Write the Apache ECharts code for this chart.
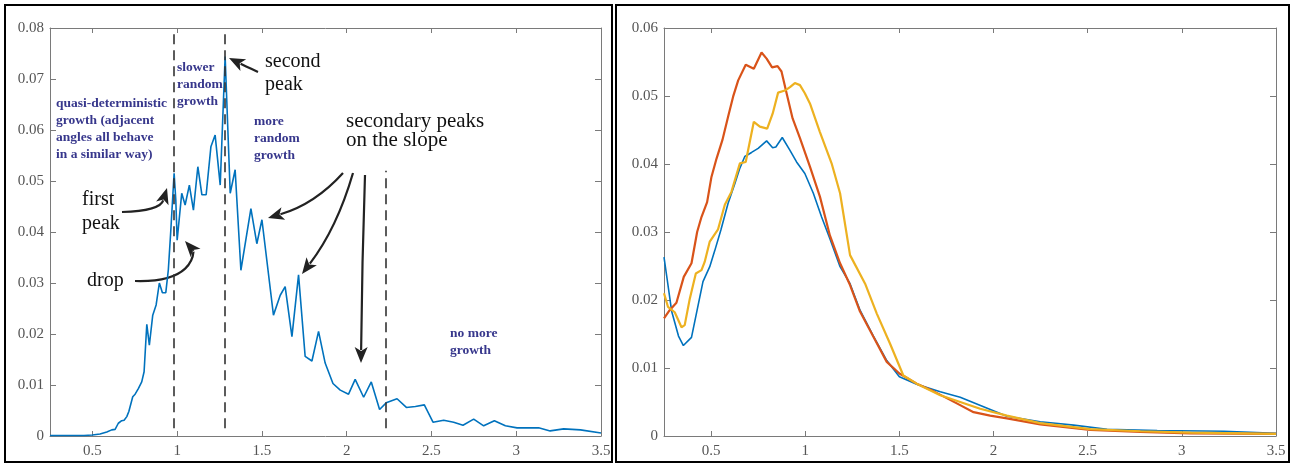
<!DOCTYPE html>
<html>
<head>
<meta charset="utf-8">
<script src="https://cdn.jsdelivr.net/npm/echarts@6/dist/echarts.min.js"></script>
<style>
  html, body { margin: 0; padding: 0; background: #fff; }
  #main { width: 1296px; height: 464px; }
</style>
</head>
<body>
<div id="main"></div>
<script>
// tick values
var xTicks = [0.5, 1, 1.5, 2, 2.5, 3, 3.5];
var leftYTicks = [0, 0.01, 0.02, 0.03, 0.04, 0.05, 0.06, 0.07, 0.08];
var rightYTicks = [0, 0.01, 0.02, 0.03, 0.04, 0.05, 0.06];

// left panel: single distribution
var leftX = [0.25, 0.35, 0.45, 0.5, 0.545, 0.585, 0.614, 0.634, 0.653, 0.673, 0.687, 0.703, 0.715, 0.725,
  0.738, 0.752, 0.771, 0.791, 0.805, 0.821, 0.836, 0.856, 0.876, 0.895, 0.913, 0.933, 0.948, 0.962,
  0.982, 0.992, 1.0, 1.027, 1.047, 1.072, 1.096, 1.122, 1.146, 1.171, 1.199, 1.224, 1.254, 1.283,
  1.313, 1.342, 1.376, 1.435, 1.47, 1.5, 1.568, 1.608, 1.637, 1.677, 1.716, 1.755, 1.795, 1.834,
  1.873, 1.919, 1.962, 2.011, 2.05, 2.1, 2.145, 2.194, 2.233, 2.297, 2.352, 2.405, 2.458, 2.509,
  2.572, 2.631, 2.686, 2.749, 2.808, 2.871, 2.936, 3.005, 3.132, 3.2, 3.28, 3.379, 3.5];
var leftY = [0.0001, 0.0001, 0.0001, 0.0002, 0.0004, 0.0008, 0.0012, 0.0013, 0.0025, 0.003, 0.0031, 0.0038, 0.0048, 0.0045,
  0.0077, 0.0082, 0.0093, 0.0106, 0.0126, 0.0219, 0.0178, 0.0237, 0.0257, 0.030, 0.0281, 0.0281, 0.0326, 0.040,
  0.0515, 0.0463, 0.0384, 0.0476, 0.0453, 0.0492, 0.0443, 0.0528, 0.0473, 0.0473, 0.0567, 0.059, 0.0492, 0.0744,
  0.0476, 0.0522, 0.0325, 0.0446, 0.0377, 0.0424, 0.0237, 0.0276, 0.0293, 0.0195, 0.0316, 0.0156, 0.0147, 0.0205,
  0.0143, 0.0103, 0.009, 0.0082, 0.0111, 0.0076, 0.0106, 0.0052, 0.0065, 0.0073, 0.0056, 0.0058, 0.0061, 0.0027,
  0.0031, 0.0027, 0.0021, 0.0033, 0.002, 0.003, 0.002, 0.0016, 0.0016, 0.001, 0.0014, 0.0012, 0.0006];

// dashed separators (left panel)
var dashX = [0.978, 1.279, 2.233];
var dashTop = [0.079, 0.079, 0.052];
var dashBottom = 0.0015;

// right panel: three smoothed distributions
var blueX = [0.25, 0.266, 0.291, 0.327, 0.353, 0.396, 0.422, 0.457, 0.493, 0.52, 0.552, 0.59, 0.626, 0.653,
  0.679, 0.715, 0.75, 0.795, 0.827, 0.844, 0.878, 0.919, 0.954, 0.998, 1.043, 1.087, 1.131, 1.185, 1.238,
  1.291, 1.362, 1.433, 1.5, 1.592, 1.717, 1.823, 1.947, 2.071, 2.248, 2.425, 2.603, 2.869, 3.223, 3.5];
var blueY = [0.0263, 0.0232, 0.0183, 0.0147, 0.0133, 0.0145, 0.018, 0.0227, 0.0249, 0.0273, 0.0303, 0.0342, 0.0371, 0.0394,
  0.0411, 0.0417, 0.0423, 0.0434, 0.0424, 0.0425, 0.0439, 0.042, 0.0403, 0.0386, 0.0357, 0.0322, 0.029, 0.0249, 0.0224,
  0.0185, 0.0147, 0.0111, 0.0087, 0.0076, 0.0065, 0.0057, 0.0043, 0.0029, 0.0021, 0.0016, 0.001, 0.0008, 0.0007, 0.0004];

var redX = [0.25, 0.28, 0.316, 0.355, 0.396, 0.426, 0.449, 0.479, 0.502, 0.529, 0.56, 0.59, 0.617, 0.644,
  0.684, 0.727, 0.768, 0.795, 0.824, 0.853, 0.874, 0.901, 0.933, 0.972, 1.025, 1.078, 1.131, 1.185, 1.238,
  1.291, 1.362, 1.433, 1.5, 1.592, 1.68, 1.805, 1.894, 1.982, 2.071, 2.248, 2.514, 2.78, 3.046, 3.5];
var redY = [0.0173, 0.0185, 0.0196, 0.0234, 0.0254, 0.03, 0.0322, 0.0344, 0.0381, 0.0408, 0.0435, 0.0469, 0.0499, 0.0523,
  0.0546, 0.054, 0.0564, 0.0555, 0.0542, 0.0544, 0.0536, 0.0504, 0.0467, 0.0438, 0.0396, 0.0352, 0.0295, 0.0254, 0.0222,
  0.0183, 0.0146, 0.0109, 0.0092, 0.0077, 0.0066, 0.0048, 0.0035, 0.003, 0.0026, 0.0017, 0.0009, 0.0006, 0.0004, 0.0003];

var yellowX = [0.25, 0.271, 0.307, 0.343, 0.36, 0.387, 0.419, 0.449, 0.466, 0.493, 0.537, 0.573, 0.608, 0.653,
  0.684, 0.727, 0.759, 0.798, 0.827, 0.856, 0.892, 0.919, 0.945, 0.972, 0.998, 1.025, 1.078, 1.14, 1.185,
  1.238, 1.318, 1.38, 1.45, 1.521, 1.592, 1.717, 1.823, 1.929, 2.071, 2.248, 2.514, 2.78, 3.046, 3.5];
var yellowY = [0.021, 0.019, 0.0182, 0.016, 0.0163, 0.0202, 0.0239, 0.0244, 0.0256, 0.0286, 0.0304, 0.034, 0.0359, 0.0401,
  0.0403, 0.0462, 0.0455, 0.0452, 0.0474, 0.0505, 0.0508, 0.0513, 0.0519, 0.0516, 0.0504, 0.0489, 0.0447, 0.0401, 0.0357,
  0.0266, 0.0224, 0.018, 0.0136, 0.0089, 0.0077, 0.006, 0.005, 0.004, 0.003, 0.0019, 0.001, 0.0007, 0.0005, 0.0003];

function zip(xs, ys) {
  return xs.map(function (x, i) { return [x, ys[i]]; });
}

var serif = 'Liberation Serif';
var axisColor = '#7a7a7a';
var labelColor = '#555';
var purple = '#37378c';

function xAxisCfg(grid, pos) {
  var main = pos === 'bottom';
  return {
    gridIndex: grid, type: 'value', min: 0.25, max: 3.5, position: pos,
    axisLine: { show: true, onZero: false, lineStyle: { color: axisColor, width: 1 } },
    axisTick: { show: true, inside: true, length: 5, customValues: xTicks, lineStyle: { color: axisColor } },
    axisLabel: {
      show: main, customValues: xTicks, margin: 8,
      fontFamily: serif, fontSize: 15, color: labelColor,
      formatter: function (v) { return String(v); }
    },
    splitLine: { show: false }
  };
}

function yAxisCfg(grid, pos, max, ticks) {
  var main = pos === 'left';
  return {
    gridIndex: grid, type: 'value', min: 0, max: max, position: pos,
    axisLine: { show: true, onZero: false, lineStyle: { color: axisColor, width: 1 } },
    axisTick: { show: true, inside: true, length: 6, customValues: ticks, lineStyle: { color: axisColor } },
    axisLabel: {
      show: main, customValues: ticks, margin: 6,
      fontFamily: serif, fontSize: 15, color: labelColor,
      formatter: function (v) { return v === 0 ? '0' : v.toFixed(2); }
    },
    splitLine: { show: false }
  };
}

// text helpers for annotations
function textLines(lines, x, y0, step, font, color) {
  return lines.map(function (t, i) {
    return {
      type: 'text', x: x, y: y0 + i * step, silent: true,
      style: { text: t, font: font, fill: color, verticalAlign: 'middle', align: 'left' }
    };
  });
}

function arrow(x1, y1, c1x, c1y, c2x, c2y, x2, y2) {
  var dx = x2 - c2x, dy = y2 - c2y;
  var len = Math.sqrt(dx * dx + dy * dy);
  var ux = dx / len, uy = dy / len;
  var hl = 16, hw = 6.5;
  var bx = x2 - ux * hl, by = y2 - uy * hl;
  var shape = { x1: x1, y1: y1, x2: bx + ux * 3, y2: by + uy * 3, cpx1: c1x, cpy1: c1y };
  if (c2x !== c1x || c2y !== c1y) { shape.cpx2 = c2x; shape.cpy2 = c2y; }
  return [{
    type: 'bezierCurve', silent: true, shape: shape,
    style: { stroke: '#222', lineWidth: 2.2, fill: null }
  }, {
    type: 'polygon', silent: true,
    shape: { points: [[x2, y2], [bx - uy * hw, by + ux * hw], [bx + ux * 4, by + uy * 4], [bx + uy * hw, by - ux * hw]] },
    style: { fill: '#222' }
  }];
}

var purpleFont = 'bold 13.5px "Liberation Serif"';
var blackFont = '20px "Liberation Serif"';
var blackFont2 = '21px "Liberation Serif"';

var graphics = [
  { type: 'rect', silent: true, shape: { x: 5, y: 5, width: 607, height: 457 }, style: { fill: null, stroke: '#000', lineWidth: 2 } },
  { type: 'rect', silent: true, shape: { x: 616, y: 5, width: 673, height: 457 }, style: { fill: null, stroke: '#000', lineWidth: 2 } }
]
  .concat(textLines(['quasi-deterministic', 'growth (adjacent', 'angles all behave', 'in a similar way)'], 56, 104, 16.7, purpleFont, purple))
  .concat(textLines(['slower', 'random', 'growth'], 177, 68, 17, purpleFont, purple))
  .concat(textLines(['more', 'random', 'growth'], 254, 122, 16.7, purpleFont, purple))
  .concat(textLines(['no more', 'growth'], 450, 334, 17, purpleFont, purple))
  .concat(textLines(['second', 'peak'], 265, 62, 23, blackFont, '#111'))
  .concat(textLines(['secondary peaks', 'on the slope'], 346, 121, 19, blackFont2, '#111'))
  .concat(textLines(['first', 'peak'], 82, 200, 24, blackFont, '#111'))
  .concat(textLines(['drop'], 87, 281, 0, blackFont, '#111'))
  .concat(arrow(258, 72, 243, 65, 243, 65, 229, 58))
  .concat(arrow(122, 212, 160, 211, 160, 211, 167, 188))
  .concat(arrow(135, 281, 197, 283, 193, 250, 185, 241))
  .concat(arrow(343, 173, 315, 204, 315, 204, 268, 218))
  .concat(arrow(353, 173, 337, 228, 337, 228, 302, 274))
  .concat(arrow(365, 175, 362, 262, 362, 262, 361, 363));

var dashLines = dashX.map(function (x, i) {
  return [{ coord: [x, dashBottom] }, { coord: [x, dashTop[i]] }];
});

var chart = echarts.init(document.getElementById('main'));
var option = {
  backgroundColor: '#fff',
  animation: false,
  grid: [
    { left: 50, top: 28, right: 695, bottom: 28, outerBoundsMode: 'none' },
    { left: 664, top: 28, right: 20, bottom: 28, outerBoundsMode: 'none' }
  ],
  xAxis: [xAxisCfg(0, 'bottom'), xAxisCfg(0, 'top'), xAxisCfg(1, 'bottom'), xAxisCfg(1, 'top')],
  yAxis: [yAxisCfg(0, 'left', 0.08, leftYTicks), yAxisCfg(0, 'right', 0.08, leftYTicks),
          yAxisCfg(1, 'left', 0.06, rightYTicks), yAxisCfg(1, 'right', 0.06, rightYTicks)],
  series: [{
    name: 'left', type: 'line', xAxisIndex: 0, yAxisIndex: 0,
    data: zip(leftX, leftY), showSymbol: false,
    lineStyle: { color: '#0072BD', width: 1.6 },
    markLine: {
      silent: true, symbol: 'none', label: { show: false },
      lineStyle: { color: '#333', width: 1.6, type: [10, 6] },
      data: dashLines
    }
  }, {
    name: 'blue', type: 'line', xAxisIndex: 2, yAxisIndex: 2,
    data: zip(blueX, blueY), showSymbol: false,
    lineStyle: { color: '#0072BD', width: 1.6 }
  }, {
    name: 'red', type: 'line', xAxisIndex: 2, yAxisIndex: 2,
    data: zip(redX, redY), showSymbol: false,
    lineStyle: { color: '#D95319', width: 2.2 }
  }, {
    name: 'yellow', type: 'line', xAxisIndex: 2, yAxisIndex: 2,
    data: zip(yellowX, yellowY), showSymbol: false,
    lineStyle: { color: '#EDB120', width: 2.2 }
  }],
  graphic: graphics
};
chart.setOption(option);
</script>
</body>
</html>
